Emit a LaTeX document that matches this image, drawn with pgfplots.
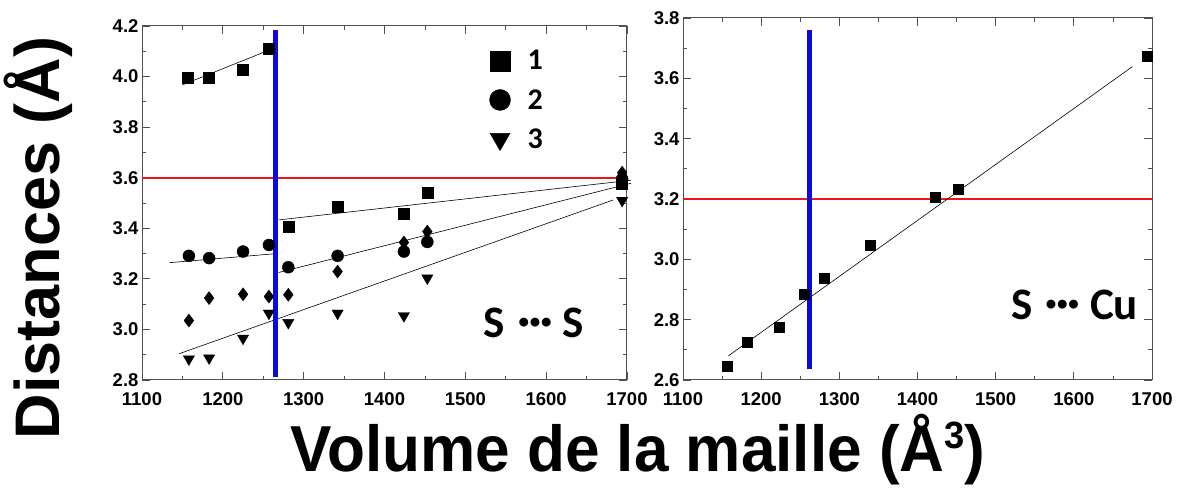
\documentclass[border=0pt]{standalone}
\usepackage{pgfplots}
\pgfplotsset{compat=1.18}
\usepackage{fontspec}
\setmainfont{Liberation Sans}
\newfontfamily\calib{Carlito}
\definecolor{frame}{RGB}{80,80,80}
\definecolor{vblue}{RGB}{10,10,220}
\definecolor{hred}{RGB}{240,20,20}

\pgfplotsset{
  myaxis/.style={
    scale only axis,
    anchor=south west,
    axis line style={frame, line width=1pt},
    every tick/.style={frame, line width=0.8pt},
    tick align=inside,
    major tick length=8pt, minor tick length=4pt,
    minor x tick num=1, minor y tick num=1,
    xmin=1100, xmax=1700, xtick={1100,1200,...,1700},
    tick label style={font=\fontsize{18.5}{20}\selectfont\bfseries},
    /pgf/number format/assume math mode=true,
    x tick label style={/pgf/number format/1000 sep={}, yshift=-9pt},
    y tick label style={/pgf/number format/.cd, fixed, fixed zerofill, precision=1},
    clip=false,
  },
  fitline/.style={black, line width=0.6pt, no marks},
}

\newcommand{\tdots}{\raisebox{0.2em}{\fontsize{21}{21}\selectfont•\hspace{0.04em}•\hspace{0.04em}•}}

\begin{document}
\begin{tikzpicture}
\useasboundingbox (0pt,0pt) rectangle (1195pt,490pt);

% ---------------- left panel ----------------
\begin{axis}[myaxis, at={(142pt,110pt)}, width=485pt, height=354pt,
  ymin=2.8, ymax=4.2, ytick={2.8,3.0,...,4.21},
  legend style={at={(0.71,0.943)}, anchor=north west, draw=none, fill=none,
    font=\calib\bfseries\fontsize{30}{32}\selectfont, row sep=14pt,
    legend cell align=left},
  legend image code/.code={\draw[#1] plot coordinates {(0.45cm,0cm)};},
]
\addlegendimage{only marks, mark=square*, mark size=10pt, black}
\addlegendentry{\hspace{15pt}1}
\addlegendimage{only marks, mark=*, mark size=10.5pt, black}
\addlegendentry{\hspace{15pt}2}
\addlegendimage{only marks, mark=triangle*, mark options={rotate=180}, mark size=11.5pt, black}
\addlegendentry{\hspace{15pt}3}

\addplot[hred, line width=2pt, forget plot] coordinates {(1100,3.6) (1700,3.6)};

\addplot[fitline, forget plot] coordinates {(1150,3.967) (1263,4.112)};
\addplot[fitline, forget plot] coordinates {(1269,3.433) (1705,3.590)};
\addplot[fitline, forget plot] coordinates {(1134,3.264) (1263,3.299)};
\addplot[fitline, forget plot] coordinates {(1269,3.225) (1705,3.578)};
\addplot[fitline, forget plot] coordinates {(1146,2.904) (1683,3.512)};

\addplot[only marks, mark=square*, mark size=5.5pt, black, forget plot] coordinates {
(1157,3.997) (1183,3.995) (1225,4.026) (1257,4.110) (1281,3.407)
(1342,3.486) (1424,3.456) (1453,3.541) (1694,3.575)};
\addplot[only marks, mark=*, mark size=6pt, black, forget plot] coordinates {
(1158,3.291) (1183,3.282) (1225,3.308) (1257,3.334) (1281,3.246)
(1342,3.291) (1424,3.308) (1453,3.346) (1694,3.595)};
\addplot[only marks, mark=diamond*, mark size=6.5pt, black, forget plot] coordinates {
(1158,3.035) (1183,3.124) (1225,3.139) (1257,3.130) (1281,3.137)
(1342,3.229) (1424,3.344) (1453,3.387) (1694,3.620)};
\addplot[only marks, mark=triangle*, mark options={rotate=180}, mark size=6.5pt, black, forget plot] coordinates {
(1158,2.883) (1183,2.887) (1225,2.965) (1257,3.064) (1281,3.027)
(1342,3.064) (1424,3.054) (1453,3.203) (1694,3.510)};

\addplot[vblue, line width=5pt, forget plot] coordinates {(1265,2.81) (1265,4.185)};

\node[font=\calib\bfseries\fontsize{45}{48}\selectfont, anchor=base] at (axis cs:1585,2.97)
  {S\hspace{0.3em}\tdots\hspace{0.25em}S};
\end{axis}

% ---------------- right panel ----------------
\begin{axis}[myaxis, at={(683pt,110pt)}, width=469pt, height=362pt,
  ymin=2.6, ymax=3.8, ytick={2.6,2.8,...,3.81}]
\addplot[hred, line width=2pt] coordinates {(1100,3.2) (1700,3.2)};
\addplot[fitline] coordinates {(1158,2.680) (1675,3.639)};
\addplot[only marks, mark=square*, mark size=5pt, black] coordinates {
(1156,2.645) (1182,2.725) (1223,2.775) (1255,2.885) (1280,2.937)
(1340,3.048) (1422,3.206) (1452,3.234) (1694,3.672)};
\addplot[vblue, line width=5pt] coordinates {(1262,2.635) (1262,3.76)};
\node[font=\calib\bfseries\fontsize{45}{48}\selectfont, anchor=base] at (axis cs:1601,2.80)
  {S\hspace{0.3em}\tdots\hspace{0.25em}Cu};
\end{axis}

% ---------------- axis titles ----------------
\node[rotate=90, anchor=base, font=\fontsize{63}{66}\selectfont\bfseries] at (59pt,252pt) {Distances (Å)};
\node[anchor=base, xscale=0.955, font=\fontsize{65}{70}\selectfont\bfseries] at (638pt,18pt)
  {Volume de la maille (Å\raisebox{0.36em}{\fontsize{38}{38}\selectfont\bfseries 3})};
\end{tikzpicture}
\end{document}
